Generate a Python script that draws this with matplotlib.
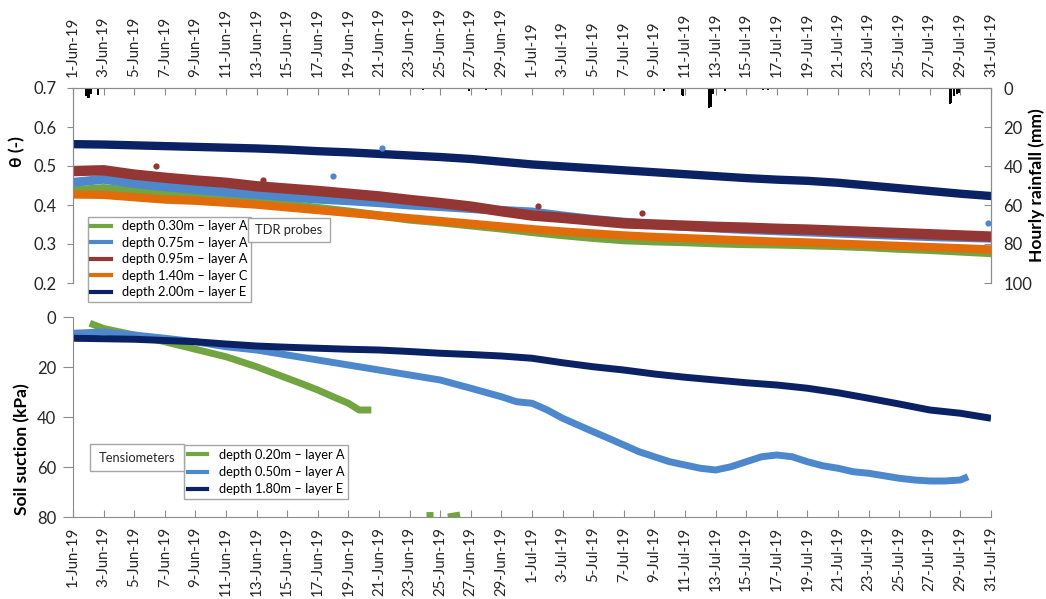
import pandas as pd
import numpy as np
import matplotlib
matplotlib.use("Agg")
import matplotlib.pyplot as plt
import matplotlib.dates as mdates
from matplotlib.lines import Line2D
from matplotlib.patches import Rectangle

plt.rcParams['font.family'] = ['Lato', 'DejaVu Sans']

start = pd.Timestamp("2019-06-01")
end = pd.Timestamp("2019-07-31")

# TDR probes - volumetric water content, read every 2 days (days since 1-Jun)
tdr_days = list(range(0, 61, 2))
theta_030 = [0.437, 0.443, 0.436, 0.429, 0.423, 0.417, 0.410, 0.401, 0.392, 0.383, 0.373,
             0.363, 0.356, 0.348, 0.340, 0.331, 0.323, 0.316, 0.310, 0.307, 0.305,
             0.302, 0.300, 0.299, 0.297, 0.295, 0.292, 0.288, 0.285, 0.281, 0.277]
theta_075 = [0.458, 0.466, 0.455, 0.447, 0.440, 0.433, 0.427, 0.421, 0.415, 0.411, 0.406,
             0.400, 0.396, 0.391, 0.386, 0.382, 0.372, 0.363, 0.356, 0.350, 0.345,
             0.341, 0.337, 0.334, 0.331, 0.328, 0.325, 0.322, 0.319, 0.317, 0.315]
theta_095 = [0.487, 0.489, 0.478, 0.470, 0.463, 0.457, 0.448, 0.442, 0.436, 0.429, 0.422,
             0.413, 0.405, 0.396, 0.384, 0.373, 0.367, 0.360, 0.353, 0.350, 0.347,
             0.344, 0.342, 0.339, 0.337, 0.334, 0.331, 0.328, 0.325, 0.322, 0.319]
theta_140 = [0.427, 0.426, 0.420, 0.414, 0.411, 0.406, 0.401, 0.394, 0.387, 0.380, 0.373,
             0.366, 0.359, 0.352, 0.345, 0.338, 0.332, 0.327, 0.322, 0.318, 0.315,
             0.312, 0.309, 0.306, 0.304, 0.301, 0.298, 0.295, 0.292, 0.289, 0.286]
theta_200 = [0.556, 0.555, 0.553, 0.551, 0.549, 0.547, 0.545, 0.542, 0.538, 0.535, 0.531,
             0.527, 0.523, 0.518, 0.511, 0.504, 0.499, 0.494, 0.489, 0.484, 0.479,
             0.474, 0.469, 0.465, 0.462, 0.457, 0.450, 0.443, 0.436, 0.429, 0.423]

# stray TDR readings
out_075_days = [17.0, 20.2, 59.8]
out_075_vals = [0.474, 0.546, 0.354]
out_095_days = [5.4, 12.4, 30.4, 37.2]
out_095_vals = [0.500, 0.464, 0.397, 0.379]

# hourly rainfall (mm)
rain_days = [0.85, 0.95, 1.05, 1.15, 1.65, 22.9, 25.9, 27.0, 38.6, 39.8, 39.9,
             41.6, 41.7, 41.8, 42.6, 45.1, 45.4, 57.3, 57.4, 57.6, 57.8, 57.9]
rain_mm = [4.0, 5.0, 5.0, 3.0, 3.5, 1.0, 1.5, 1.0, 1.5, 3.5, 4.0,
           10.0, 9.5, 3.0, 1.5, 1.0, 1.0, 8.0, 7.5, 4.0, 3.0, 2.5]

# tensiometers - soil suction (kPa)
suc_020_days = [1.1, 2, 3, 4, 5, 6, 7, 8, 9, 10, 11, 12, 13, 14, 15, 16, 17, 18, 18.7, 19.5]
suc_020 = [2.5, 4.6, 5.9, 7.2, 8.5, 9.9, 11.4, 12.9, 14.4, 15.9, 17.9, 19.9, 22.2, 24.5,
           26.8, 29.2, 31.9, 34.5, 37.2, 37.2]
suc_020_late_days = [[23.1, 23.5], [24.5, 24.9, 25.3]]
suc_020_late = [[79.0, 79.0], [80.0, 79.6, 79.2]]

suc_050_days = [0, 2, 4, 6, 8, 10, 12, 14, 16, 18, 20, 22, 24, 26, 28, 29] + list(range(30, 59)) + [58.5]
suc_050 = [6.5, 6.0, 7.2, 8.5, 9.9, 11.9, 13.2, 15.2, 17.2, 19.2, 21.2, 23.2, 25.2, 28.5, 31.9, 33.9,
           34.5, 37.2, 40.5, 43.2, 45.9, 48.5, 51.2, 53.9, 55.9, 57.9, 59.2, 60.5, 61.2, 59.9,
           57.9, 55.9, 55.2, 55.9, 57.9, 59.5, 60.5, 61.9, 62.5, 63.5, 64.5, 65.2, 65.6, 65.6,
           65.2, 63.9]

suc_180_days = list(range(0, 61, 2))
suc_180 = [8.5, 8.7, 8.9, 9.4, 9.9, 10.8, 11.6, 12.1, 12.5, 12.9, 13.2, 13.8, 14.5, 15.0, 15.6,
           16.5, 18.3, 19.9, 21.2, 22.8, 24.1, 25.2, 26.3, 27.2, 28.5, 30.3, 32.5, 34.8, 37.2,
           38.5, 40.5]

green = '#72a442'
blue = '#4d88cc'
red = '#943634'
orange = '#e36c0a'
navy = '#0a2163'
grey = '#8c8c8c'
txt = '#262626'

W, H = 1046, 599


def to_dates(days):
    return start + pd.to_timedelta(days, unit='D')


fig = plt.figure(figsize=(W / 100, H / 100), dpi=100)
ax = fig.add_axes([73 / W, 1 - 283 / H, 918 / W, 195 / H])
axb = fig.add_axes([73 / W, 1 - 517 / H, 918 / W, 200 / H])

# ---- top panel: TDR probes + rainfall
t = to_dates(tdr_days)
for vals, c, lw in [(theta_030, green, 6), (theta_075, blue, 6.5), (theta_095, red, 7.5),
                    (theta_140, orange, 6), (theta_200, navy, 6)]:
    ax.plot(t, vals, color=c, lw=lw, solid_capstyle='round')
ax.scatter(to_dates(out_075_days), out_075_vals, s=12, color=blue, zorder=3)
ax.scatter(to_dates(out_095_days), out_095_vals, s=12, color=red, zorder=3)

ax.set_xlim(start, end)
ax.set_ylim(0.2, 0.7)
ax.set_yticks([0.2, 0.3, 0.4, 0.5, 0.6, 0.7])
ax.set_yticklabels(['0.2', '0.3', '0.4', '0.5', '0.6', '0.7'])

axr = ax.twinx()
axr.bar(to_dates(rain_days), rain_mm, width=0.13, color='black')
axr.set_ylim(100, 0)
axr.set_yticks([0, 20, 40, 60, 80, 100])

for a in (ax, axr):
    a.spines['bottom'].set_visible(False)
    for s in a.spines.values():
        s.set_color(grey)
ax.xaxis.tick_top()
ax.tick_params(axis='x', direction='in', length=5, color=grey, labelsize=10.8,
               labelrotation=90, pad=8, labelcolor=txt)
ax.tick_params(axis='y', direction='out', length=4, color=grey, labelsize=12,
               pad=8, labelcolor=txt)
axr.tick_params(axis='y', direction='in', length=5, color=grey, labelsize=12,
                pad=9, labelcolor=txt)

# ---- bottom panel: tensiometers
lw_t = 5
axb.plot(to_dates(suc_020_days), suc_020, color=green, lw=lw_t, solid_capstyle='butt')
for d, v in zip(suc_020_late_days, suc_020_late):
    axb.plot(to_dates(d), v, color=green, lw=lw_t, solid_capstyle='butt')
axb.plot(to_dates(suc_050_days), suc_050, color=blue, lw=lw_t, solid_capstyle='butt')
axb.plot(to_dates(suc_180_days), suc_180, color=navy, lw=lw_t, solid_capstyle='butt')

axb.set_xlim(start, end)
axb.set_ylim(80, 0)
axb.set_yticks([0, 20, 40, 60, 80])
axb.spines['top'].set_visible(False)
axb.spines['right'].set_visible(False)
for s in axb.spines.values():
    s.set_color(grey)
axb.tick_params(axis='x', direction='in', length=5, color=grey, labelsize=10.8,
                labelrotation=90, pad=7, labelcolor=txt)
axb.tick_params(axis='y', direction='out', length=7, color=grey, labelsize=12,
                pad=5, labelcolor=txt)

for a in (ax, axb):
    a.xaxis.set_major_locator(mdates.DayLocator(bymonthday=range(1, 32, 2)))
    a.xaxis.set_major_formatter(mdates.DateFormatter('%-d-%b-%y'))

# ---- axis titles
fig.text(17 / W, 1 - 152 / H, 'θ (-)', rotation=90, ha='center', va='center',
         fontsize=12.5, fontweight='bold')
fig.text(22 / W, 1 - 449 / H, 'Soil suction (kPa)', rotation=90, ha='center', va='center',
         fontsize=12.5, fontweight='bold')
fig.text(1037 / W, 1 - 185 / H, 'Hourly rainfall (mm)', rotation=90, ha='center', va='center',
         fontsize=12.5, fontweight='bold')

# ---- legends
edge = '#a6a6a6'
tdr_handles = [Line2D([], [], color=c, lw=3) for c in (green, blue, red, orange, navy)]
tdr_labels = ['depth 0.30m – layer A', 'depth 0.75m – layer A', 'depth 0.95m – layer A',
              'depth 1.40m – layer C', 'depth 2.00m – layer E']
leg1 = fig.legend(tdr_handles, tdr_labels, loc='upper left', bbox_to_anchor=(88 / W, 1 - 217 / H),
                  fontsize=9.3, frameon=True, fancybox=False, edgecolor=edge, framealpha=1,
                  borderaxespad=0, borderpad=0.25, labelspacing=0.35, handlelength=1.5,
                  handletextpad=0.9)
leg1.get_frame().set_linewidth(1)

fig.add_artist(Rectangle((248 / W, 1 - 242 / H), 82 / W, 24 / H, transform=fig.transFigure,
                         facecolor='white', edgecolor=edge, lw=1, zorder=6))
fig.text(289 / W, 1 - 230 / H, 'TDR probes', ha='center', va='center', fontsize=9.3,
         color=txt, zorder=7)

ten_handles = [Line2D([], [], color=c, lw=3) for c in (green, blue, navy)]
ten_labels = ['depth 0.20m – layer A', 'depth 0.50m – layer A', 'depth 1.80m – layer E']
leg2 = fig.legend(ten_handles, ten_labels, loc='upper left', bbox_to_anchor=(184 / W, 1 - 445 / H),
                  fontsize=9.3, frameon=True, fancybox=False, edgecolor=edge, framealpha=1,
                  borderaxespad=0, borderpad=0.3, labelspacing=0.4, handlelength=1.5,
                  handletextpad=0.9)
leg2.get_frame().set_linewidth(1)

fig.add_artist(Rectangle((90 / W, 1 - 471 / H), 94 / W, 27 / H, transform=fig.transFigure,
                         facecolor='white', edgecolor=edge, lw=1, zorder=6))
fig.text(137 / W, 1 - 457.5 / H, 'Tensiometers', ha='center', va='center', fontsize=9.3,
         color=txt, zorder=7)

fig.savefig('out.png', dpi=100)
